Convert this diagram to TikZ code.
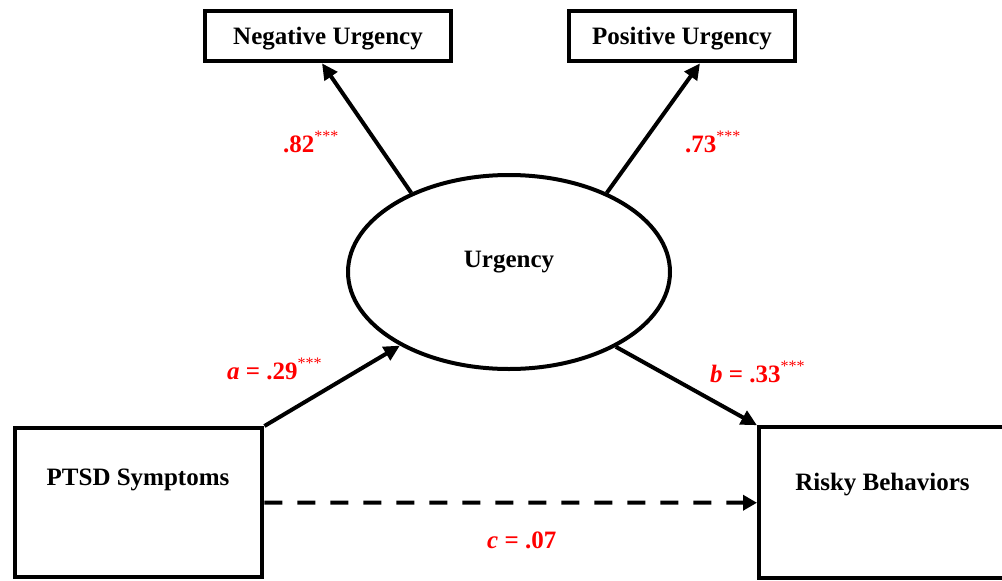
\documentclass[tikz,border=0pt]{standalone}
\usepackage{fontspec}
\setmainfont{Liberation Serif}
\usetikzlibrary{arrows.meta,shapes.geometric}
\newcommand{\stars}{\raisebox{11pt}{\fontsize{16}{16}\selectfont\mdseries ***}}
\begin{document}
\begin{tikzpicture}[x=1pt,y=-1pt,
  box/.style={draw, line width=4pt, rectangle, inner sep=0, font=\fontsize{25}{30}\selectfont\bfseries},
  arr/.style={line width=4pt, -{Triangle[length=16pt,width=15pt]}},
  dasharr/.style={line width=4pt, dash pattern=on 18pt off 15pt, -{Triangle[length=14pt,width=15pt]}},
  lbl/.style={font=\fontsize{25}{30}\selectfont\bfseries, inner sep=0, anchor=base},
  coef/.style={font=\fontsize{25}{30}\selectfont\bfseries, text=red, anchor=base west, inner sep=0}]
\clip (0,0) rectangle (1002,581);
\fill[white] (0,0) rectangle (1002,581);
% boxes
\node[box, text depth=1.5pt, minimum width=246pt, minimum height=50pt] (neg) at (328,36.3) {Negative Urgency};
\node[box, text depth=1.5pt, minimum width=226pt, minimum height=50pt] (pos) at (682,36.3) {Positive Urgency};
\node[box, minimum width=247.5pt, minimum height=149pt] (ptsd) at (138.7,502.5) {};
\node[box, minimum width=247.5pt, minimum height=151pt] (risky) at (882.75,502.75) {};
\node[draw, ellipse, line width=4pt, inner sep=0, minimum width=322pt, minimum height=194pt] (urg) at (509,272) {};
% texts
\node[lbl] (ptsdtext) at (138,485) {PTSD Symptoms};
\node[lbl] (riskytext) at (882.5,490) {Risky Behaviors};
\node[lbl] (urgtext) at (509,267) {Urgency};
% arrows
\draw[arr] (urg.141) -- ([xshift=-6pt]neg.south);
\draw[arr] (urg.39.5) -- ([xshift=18pt]pos.south);
\draw[arr] (ptsd.north east) -- (urg.214.7);
\draw[arr] (urg.325) -- (risky.north west);
\draw[dasharr] (ptsd.east) -- (risky.west);
% coefficients
\node[coef] (c82) at (283,152) {.82\stars};
\node[coef] (c73) at (685,152) {.73\stars};
\node[coef] (ca) at (227,379) {\itshape a\upshape{} = .29\stars};
\node[coef] (cb) at (710,382) {\itshape b\upshape{} = .33\stars};
\node[coef] (cc) at (487,548) {\itshape c\upshape{} = .07};
\end{tikzpicture}
\end{document}
